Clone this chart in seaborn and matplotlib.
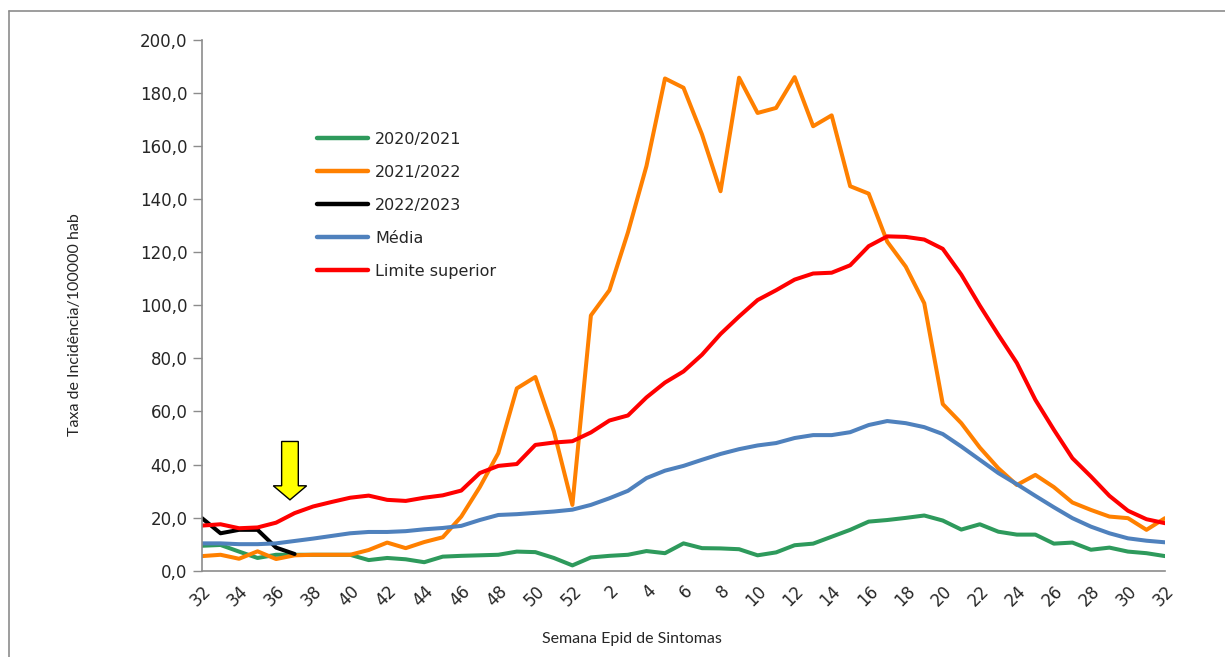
import numpy as np
import pandas as pd
import seaborn as sns
import matplotlib
matplotlib.use("Agg")
import matplotlib.pyplot as plt
from matplotlib.patches import Polygon
from matplotlib.lines import Line2D

# Epidemiological weeks: 32..52 of one year, then 1..32 of the next
weeks = list(range(32, 53)) + list(range(1, 33))

s2020_2021 = [9.4, 9.7, 7.2, 4.8, 6.0, 6.0, 6.0, 6.0, 6.0, 4.0, 4.8, 4.3, 3.2, 5.3, 5.6,
              5.8, 6.0, 7.2, 7.0, 4.8, 2.0, 5.0, 5.6, 6.0, 7.4, 6.6, 10.3, 8.5, 8.4, 8.1,
              5.8, 6.9, 9.6, 10.2, 12.8, 15.4, 18.5, 19.1, 19.9, 20.8, 18.9, 15.5, 17.5,
              14.7, 13.6, 13.6, 10.2, 10.6, 7.9, 8.7, 7.2, 6.6, 5.5]

s2021_2022 = [5.5, 6.0, 4.5, 7.3, 4.4, 5.8, 6.0, 6.0, 6.0, 7.8, 10.6, 8.5, 10.8, 12.6, 20.4,
              31.5, 44.3, 68.7, 73.0, 52.5, 24.8, 96.2, 105.7, 127.5, 152.5, 185.5, 182.0,
              164.4, 143.0, 185.8, 172.5, 174.4, 186.0, 167.5, 171.6, 144.9, 142.1, 124.0,
              114.6, 100.8, 62.8, 55.6, 46.4, 38.6, 32.3, 36.1, 31.5, 25.7, 22.9, 20.4,
              19.8, 15.4, 19.8]

s2022_2023 = [19.8, 14.1, 15.4, 15.4, 8.7, 6.3] + [np.nan] * 47

media = [10.3, 10.3, 10.0, 10.0, 10.3, 11.2, 12.1, 13.1, 14.1, 14.6, 14.6, 14.9, 15.6, 16.1,
         16.9, 19.1, 21.0, 21.3, 21.8, 22.3, 23.0, 24.8, 27.3, 30.1, 34.9, 37.7, 39.5, 41.8,
         44.0, 45.8, 47.2, 48.1, 50.0, 51.1, 51.1, 52.2, 54.9, 56.4, 55.6, 54.1, 51.5, 46.8,
         41.8, 36.8, 32.6, 28.2, 23.9, 19.8, 16.6, 14.1, 12.2, 11.3, 10.7]

limite_superior = [17.0, 17.5, 16.0, 16.3, 18.1, 21.7, 24.2, 25.9, 27.5, 28.3, 26.7, 26.3,
                   27.5, 28.4, 30.2, 36.8, 39.5, 40.2, 47.4, 48.3, 48.8, 52.1, 56.6, 58.5,
                   65.3, 70.9, 75.1, 81.4, 89.2, 95.8, 102.0, 105.7, 109.7, 112.0, 112.3,
                   115.1, 122.3, 126.0, 125.8, 124.8, 121.3, 111.6, 99.9, 88.9, 78.3, 64.4,
                   53.1, 42.4, 35.5, 28.2, 22.6, 19.4, 17.9]

series_names = ["2020/2021", "2021/2022", "2022/2023", "Média", "Limite superior"]
series_values = [s2020_2021, s2021_2022, s2022_2023, media, limite_superior]
series_colors = ["#2e9a5c", "#ff8000", "#000000", "#4f81bd", "#ff0000"]

pos = np.arange(len(weeks))
df = pd.concat(
    [pd.DataFrame({"pos": pos, "valor": vals, "serie": name})
     for name, vals in zip(series_names, series_values)],
    ignore_index=True,
)

sns.set_theme(style="white")
plt.rcParams["font.family"] = ["DejaVu Sans"]

fig = plt.figure(figsize=(12.25, 6.57), dpi=100)
ax = fig.add_axes([202 / 1225, 1 - 570.7 / 657, (1165 - 202) / 1225, (570.7 - 40) / 657])

sns.lineplot(data=df, x="pos", y="valor", hue="serie", hue_order=series_names,
             palette=series_colors, linewidth=2.9, ax=ax, legend=False, sort=False)

ax.set_xlim(0, len(weeks) - 1)
ax.set_ylim(0, 200)
ax.set_yticks(np.arange(0, 201, 20))
ax.set_yticklabels([f"{v:.1f}".replace(".", ",") for v in np.arange(0, 201, 20)])
ax.set_xticks(pos[::2])
ax.set_xticklabels([str(w) for w in weeks[::2]], rotation=45, ha="right",
                   rotation_mode="anchor")
ax.tick_params(axis="y", length=6.5, width=1, color="#8c8c8c", direction="out",
               labelsize=12, pad=4, left=True)
ax.tick_params(axis="x", length=0, labelsize=12, pad=8)
ax.set_xlabel("")
ax.set_ylabel("")

for side in ["top", "right"]:
    ax.spines[side].set_visible(False)
for side in ["left", "bottom"]:
    ax.spines[side].set_color("#8c8c8c")
    ax.spines[side].set_linewidth(1.2)
ax.grid(False)

# Yellow marker arrow pointing at the current week
arrow = Polygon([(4.3, 48.7), (5.2, 48.7), (5.2, 32.0), (5.65, 32.0), (4.75, 26.7),
                 (3.85, 32.0), (4.3, 32.0)], closed=True, facecolor="#ffff00",
                edgecolor="#000000", linewidth=1.0, zorder=5)
ax.add_patch(arrow)

handles = [Line2D([], [], color=c, linewidth=3.2) for c in series_colors]
fig.legend(handles, series_names, loc="upper left",
           bbox_to_anchor=(317 / 1225, 1 - 132 / 657), frameon=False, fontsize=11.5,
           handlelength=3.2, handletextpad=0.45, labelspacing=1.12, borderpad=0,
           borderaxespad=0)

label_font = ["Liberation Sans Narrow", "Lato", "DejaVu Sans"]
fig.text(75 / 1225, 1 - 325 / 657, "Taxa de Incidência/100000 hab", rotation=90,
         ha="center", va="center", fontsize=11.5, family=label_font)
fig.text(632 / 1225, 1 - 639 / 657, "Semana Epid de Sintomas", ha="center", va="center",
         fontsize=11.5, family=label_font)

# Outer chart frame (left and top edges)
fig.add_artist(Line2D([9 / 1225, 9 / 1225], [0, 1 - 11 / 657], color="#8c8c8c",
                      linewidth=1.2, transform=fig.transFigure))
fig.add_artist(Line2D([9 / 1225, 1], [1 - 11 / 657, 1 - 11 / 657], color="#8c8c8c",
                      linewidth=1.2, transform=fig.transFigure))

fig.savefig("out.png", dpi=100, facecolor="white")
